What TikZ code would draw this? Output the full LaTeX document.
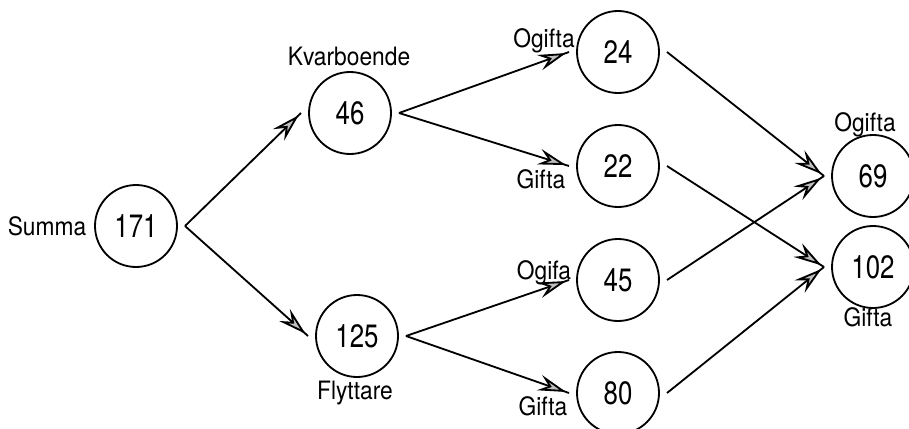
\documentclass[tikz,border=0pt]{standalone}
\usepackage{fontspec}
\setmainfont[FakeStretch=0.9]{TeX Gyre Heros}
\newfontfamily\numfont[FakeStretch=0.8]{TeX Gyre Heros}
\usetikzlibrary{arrows.meta,decorations.markings}

\tikzset{
  state/.style={circle, draw, line width=1.3pt, minimum size=2.05cm, inner sep=0pt,
    outer sep=0.2cm, font=\numfont\fontsize{23}{25}\selectfont},
  lbl/.style={anchor=base, font=\fontsize{18}{21}\selectfont},
  flow/.style={line width=1.3pt, postaction={decorate},
    decoration={markings, mark=at position -0.08cm with
      {\arrow{Stealth[length=0.7cm, width=0.4cm, inset=0.25cm, fill=gray!50]}}}}
}

\begin{document}
\begin{tikzpicture}
        \useasboundingbox (0,0) rectangle (22.725,10.7);
        % circles
        \node [state] (n171) at (3.40,5.05) {171};
        \node [state] (n46) at (8.75,7.875) {46};
        \node [state] (n125) at (8.925,2.30) {125};
        \node [state] (n24) at (15.45,9.40) {24};
        \node [state] (n22) at (15.45,6.55) {22};
        \node [state] (n45) at (15.45,3.70) {45};
        \node [state] (n80) at (15.45,0.875) {80};
        \node [state] (n69) at (21.825,6.30) {69};
        \node [state] (n102) at (21.825,4.025) {102};
        % labels
        \node [lbl] (sum) at (1.175,4.825) {Summa};
        \node [lbl] (kvar) at (8.725,9.075) {Kvarboende};
        \node [lbl] (flytt) at (8.875,0.725) {Flyttare};
        \node [lbl] (og1) at (13.6,9.525) {Ogifta};
        \node [lbl] (gi1) at (13.525,6.0) {Gifta};
        \node [lbl] (og2) at (13.6,3.725) {Ogifa};
        \node [lbl] (gi2) at (13.575,0.325) {Gifta};
        \node [lbl] (og3) at (21.625,7.425) {Ogifta};
        \node [lbl] (gi3) at (21.7,2.55) {Gifta};
        % flows
        \draw [flow] (n171.east) -- (n46.west);
        \draw [flow] (n171.east) -- (n125.west);
        \draw [flow] (n46.east) -- (n24.west);
        \draw [flow] (n46.east) -- (n22.west);
        \draw [flow] (n125.east) -- (n45.west);
        \draw [flow] (n125.east) -- (n80.west);
        \draw [flow] (n24.east) -- (n69.west);
        \draw [flow] (n45.east) -- (n69.west);
        \draw [flow] (n22.east) -- (n102.west);
        \draw [flow] (n80.east) -- (n102.west);
      \end{tikzpicture}
\end{document}
